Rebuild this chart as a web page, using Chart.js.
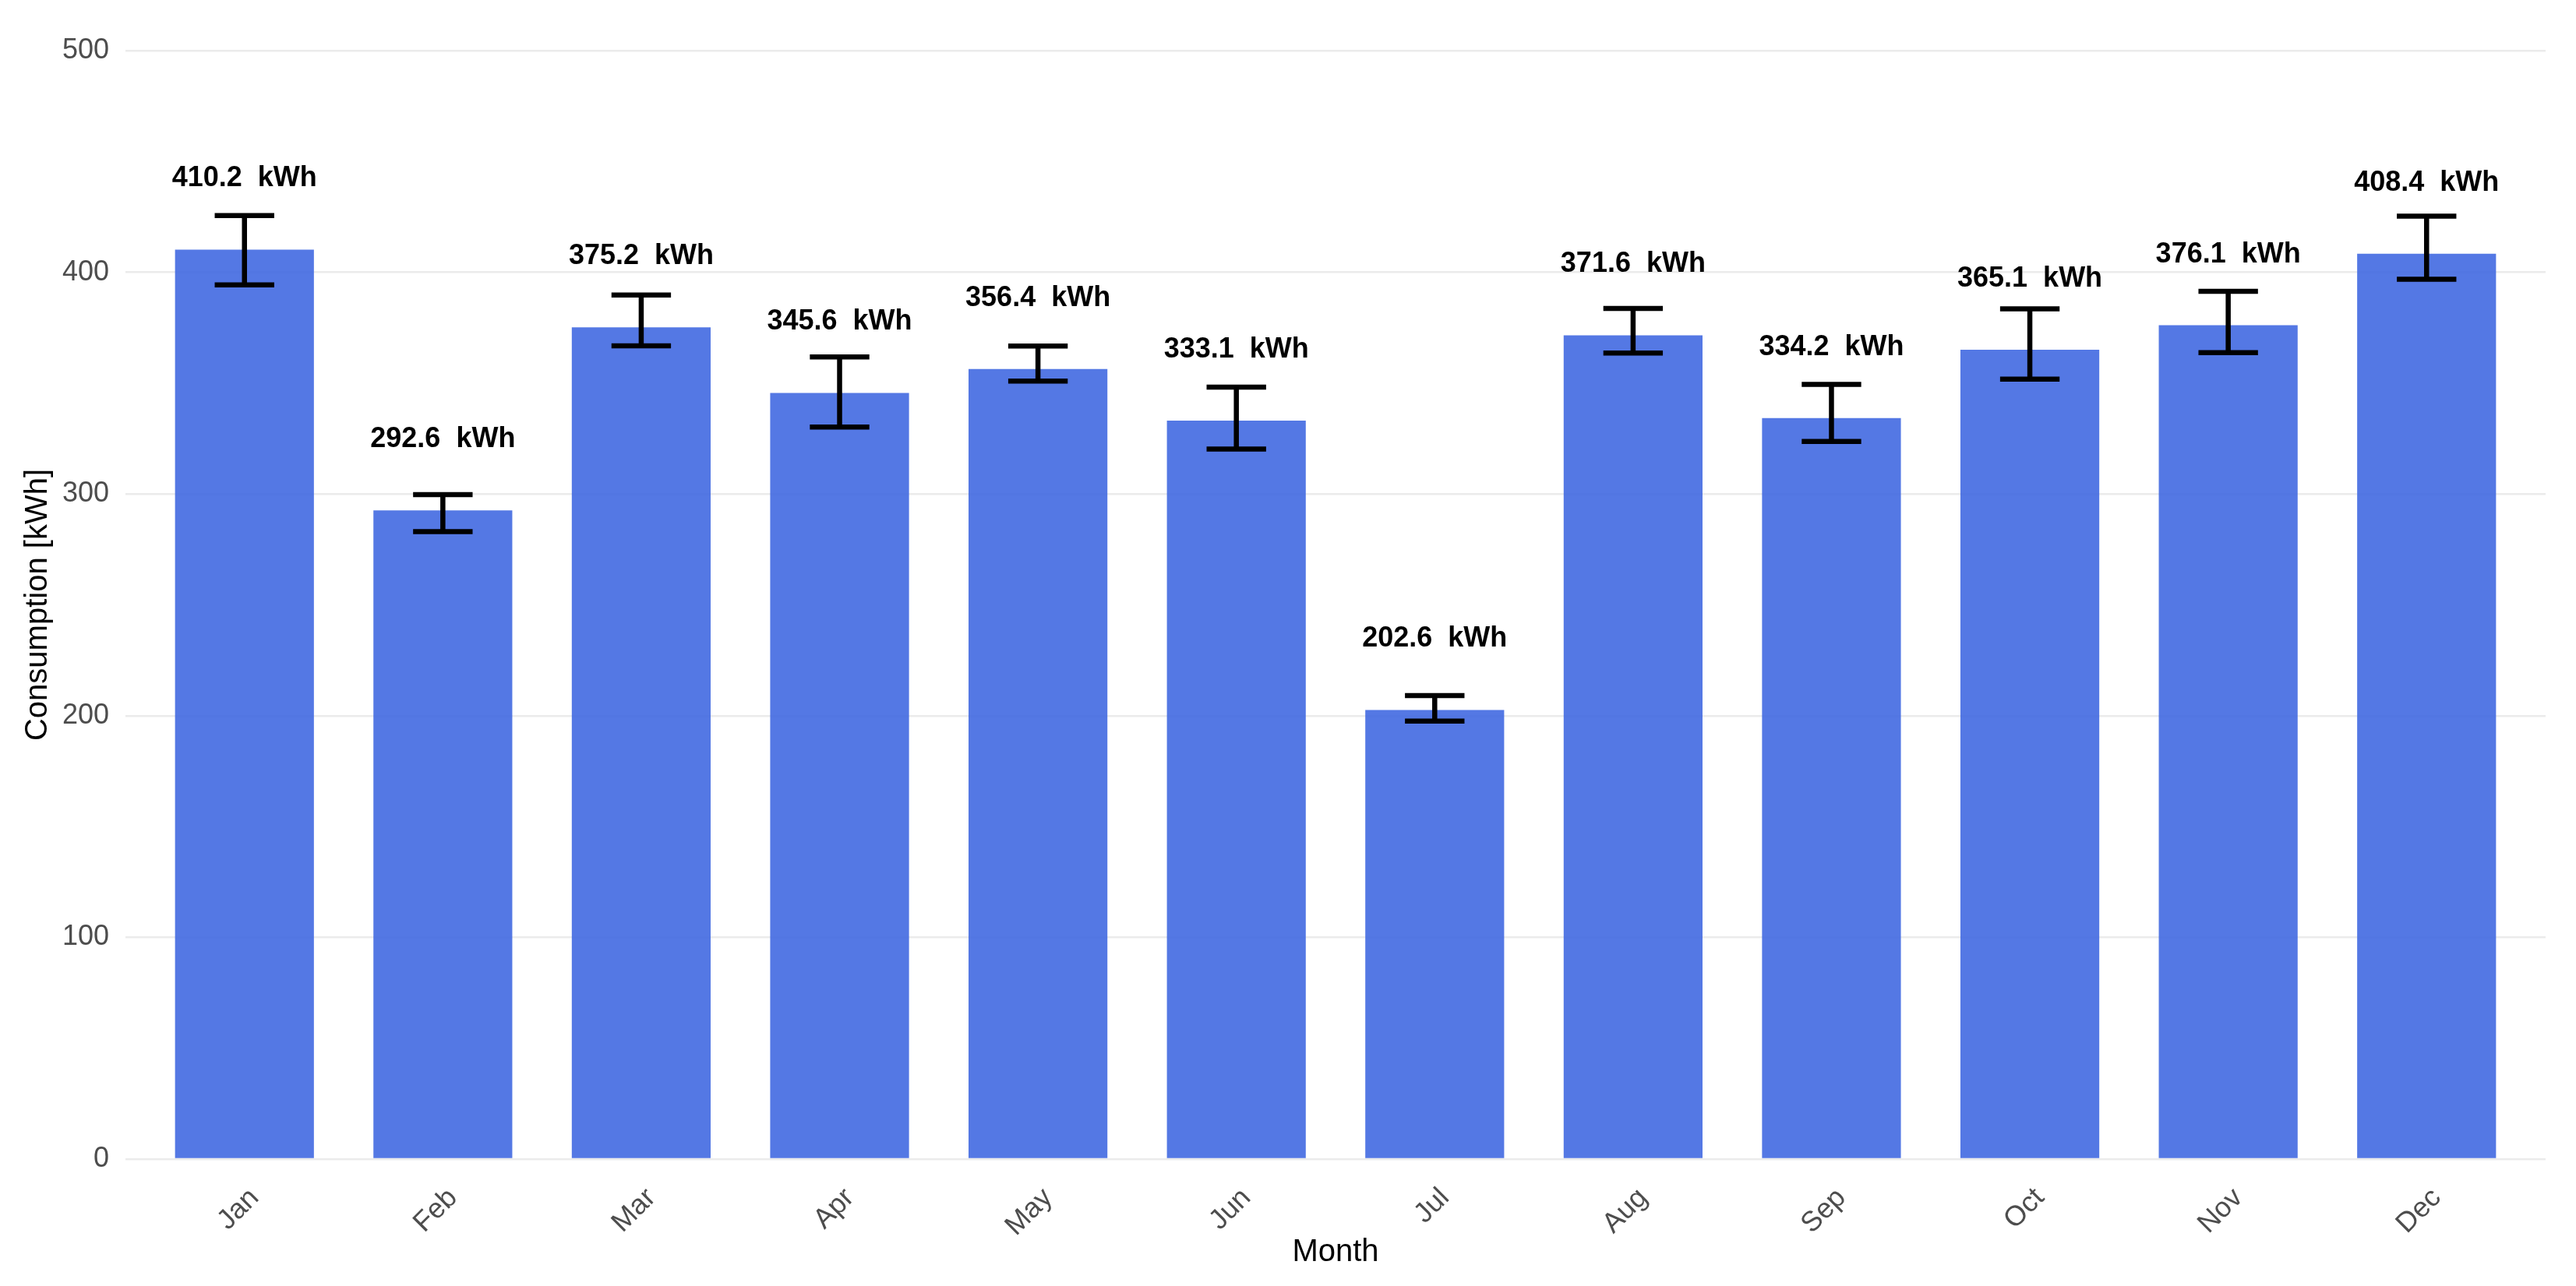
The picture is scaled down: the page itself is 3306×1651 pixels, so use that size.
<!DOCTYPE html>
<html>
<head>
<meta charset="utf-8">
<title>Monthly consumption</title>
<script src="https://cdn.jsdelivr.net/npm/chart.js@4.4.1/dist/chart.umd.min.js"></script>
<style>
  html, body { margin: 0; padding: 0; background: #fff; }
  canvas { display: block; }
</style>
</head>
<body>
<canvas id="chart" width="3306" height="1651"></canvas>
<script>
const months = ['Jan', 'Feb', 'Mar', 'Apr', 'May', 'Jun', 'Jul', 'Aug', 'Sep', 'Oct', 'Nov', 'Dec'];
const consumption = [410.2, 292.6, 375.2, 345.6, 356.4, 333.1, 202.6, 371.6, 334.2, 365.1, 376.1, 408.4];
// error bar ends
const errLow = [394.3, 283.0, 366.8, 330.2, 350.9, 320.3, 197.6, 363.6, 323.7, 351.8, 363.8, 396.9];
const errHigh = [425.6, 299.7, 389.8, 361.8, 366.7, 348.2, 209.1, 383.7, 349.4, 383.5, 391.4, 425.3];
const yTicks = [0, 100, 200, 300, 400, 500];

const FONT = '"Liberation Sans", Arial, sans-serif';

// error bars + value labels on top of the bars
const errorBars = {
  id: 'errorBars',
  afterDatasetsDraw(chart) {
    const ctx = chart.ctx;
    const x = chart.scales.x;
    const y = chart.scales.y;
    ctx.save();
    ctx.strokeStyle = '#000';
    ctx.lineWidth = 6.5;
    consumption.forEach((v, i) => {
      const cx = x.getPixelForValue(i);
      const half = x.getPixelForValue(i + 0.15) - cx;
      const top = y.getPixelForValue(errHigh[i]);
      const bot = y.getPixelForValue(errLow[i]);
      ctx.beginPath();
      ctx.moveTo(cx, top);
      ctx.lineTo(cx, bot);
      ctx.moveTo(cx - half, top);
      ctx.lineTo(cx + half, top);
      ctx.moveTo(cx - half, bot);
      ctx.lineTo(cx + half, bot);
      ctx.stroke();
    });
    ctx.font = 'bold 36px ' + FONT;
    ctx.fillStyle = '#000';
    ctx.textAlign = 'center';
    ctx.textBaseline = 'alphabetic';
    consumption.forEach((v, i) => {
      ctx.fillText(v.toFixed(1) + '  kWh', x.getPixelForValue(i), y.getPixelForValue(v + 28.5));
    });
    ctx.restore();
  }
};

new Chart(document.getElementById('chart'), {
  type: 'bar',
  data: {
    datasets: [{
      label: 'Consumption',
      data: consumption.map((v, i) => ({ x: i, y: v })),
      backgroundColor: 'rgba(65,105,225,0.9)',
      borderWidth: 0,
      barPercentage: 0.7,
      categoryPercentage: 1.0
    }]
  },
  options: {
    responsive: false,
    animation: false,
    devicePixelRatio: 1,
    layout: { autoPadding: false, padding: { top: 65, right: 39, left: 0, bottom: 0 } },
    plugins: {
      legend: { display: false },
      tooltip: { enabled: false }
    },
    scales: {
      x: {
        type: 'linear',
        min: -0.6,
        max: 11.6,
        offset: false,
        afterBuildTicks: axis => { axis.ticks = months.map((m, i) => ({ value: i })); },
        afterFit: s => { s.height = 163; },
        grid: { display: false, offset: false },
        border: { display: false },
        ticks: {
          autoSkip: false,
          minRotation: 45,
          maxRotation: 45,
          padding: 21,
          labelOffset: 13,
          color: '#4d4d4d',
          font: { family: FONT, size: 36 },
          callback: v => months[v]
        },
        title: {
          display: true,
          text: 'Month',
          color: '#000',
          padding: { top: 0, bottom: 19 },
          font: { family: FONT, size: 40 }
        }
      },
      y: {
        min: 0,
        max: 500,
        afterBuildTicks: axis => { axis.ticks = yTicks.map(v => ({ value: v })); },
        afterFit: s => { s.width = 161; },
        grid: { color: '#ebebeb', lineWidth: 2.5, drawTicks: false },
        border: { display: false },
        ticks: {
          padding: 21,
          color: '#4d4d4d',
          font: { family: FONT, size: 36 }
        },
        title: {
          display: true,
          text: 'Consumption [kWh]',
          color: '#000',
          padding: { top: 25, bottom: 0 },
          font: { family: FONT, size: 40 }
        }
      }
    }
  },
  plugins: [errorBars]
});
</script>
</body>
</html>
